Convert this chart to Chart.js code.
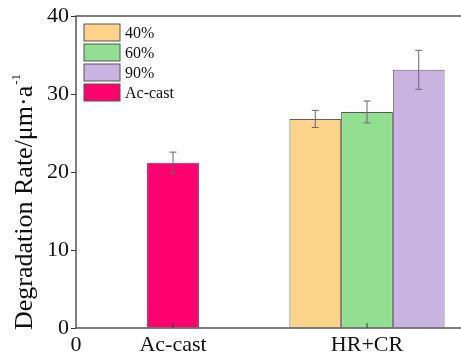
<!DOCTYPE html>
<html>
<head>
<meta charset="utf-8">
<script src="https://cdn.jsdelivr.net/npm/chart.js@4/dist/chart.umd.min.js"></script>
<style>
  html, body { margin: 0; padding: 0; background: #fff; overflow: hidden; }
</style>
</head>
<body>
<canvas id="myChart" width="470" height="356"></canvas>
<script>
// groups on the x axis (placed at 1 and 3 on a 0..4 axis)
var categories = ['Ac-cast', 'HR+CR'];
var categoryPos = [1, 3];
var yTicks = [0, 10, 20, 30, 40];
var yTitle = 'Degradation Rate/μm·a';
var yTitleSup = '-1';

// series
var seriesLabels = ['40%', '60%', '90%', 'Ac-cast'];
var acCast = [21.2];
var acCastErr = [1.35];
var hr40 = [26.8];
var hr40Err = [1.1];
var hr60 = [27.7];
var hr60Err = [1.4];
var hr90 = [33.1];
var hr90Err = [2.5];

var serif = "'Liberation Serif', 'Times New Roman', serif";

// error bars drawn through the scales
var errorBars = {
  id: 'errorBars',
  afterDatasetsDraw: function (chart) {
    var ctx = chart.ctx;
    var y = chart.scales.y;
    chart.data.datasets.forEach(function (ds, i) {
      var meta = chart.getDatasetMeta(i);
      meta.data.forEach(function (bar, j) {
        var v = ds.data[j].y;
        var e = ds.err[j];
        var top = y.getPixelForValue(v + e);
        var bot = y.getPixelForValue(v - e);
        ctx.save();
        ctx.strokeStyle = '#6e6470';
        ctx.lineWidth = 1;
        ctx.beginPath();
        ctx.moveTo(bar.x, top);
        ctx.lineTo(bar.x, bot);
        ctx.moveTo(bar.x - 3.5, top);
        ctx.lineTo(bar.x + 3.5, top);
        ctx.moveTo(bar.x - 3.5, bot);
        ctx.lineTo(bar.x + 3.5, bot);
        ctx.stroke();
        ctx.restore();
      });
    });
  }
};

// frame, inward x ticks, y title with superscript and the boxed legend
var frameAndLegend = {
  id: 'frameAndLegend',
  afterDraw: function (chart) {
    var ctx = chart.ctx;
    var a = chart.chartArea;
    ctx.save();
    ctx.strokeStyle = '#3a3a3a';
    ctx.lineWidth = 1.3;
    ctx.strokeRect(a.left, a.top, a.right - a.left, a.bottom - a.top);

    var x = chart.scales.x;
    ctx.lineWidth = 1;
    categoryPos.forEach(function (p) {
      var px = x.getPixelForValue(p);
      ctx.beginPath();
      ctx.moveTo(px, a.bottom);
      ctx.lineTo(px, a.bottom - 5);
      ctx.stroke();
    });

    // rotated y title
    ctx.save();
    ctx.translate(32, a.bottom + 2);
    ctx.rotate(-Math.PI / 2);
    ctx.fillStyle = '#111';
    ctx.textBaseline = 'alphabetic';
    ctx.textAlign = 'left';
    ctx.font = '26px ' + serif;
    ctx.fillText(yTitle, 0, 0);
    var w = ctx.measureText(yTitle).width;
    ctx.font = '13px ' + serif;
    ctx.fillText(yTitleSup, w + 1, -12);
    ctx.restore();

    ctx.font = '16px ' + serif;
    ctx.textBaseline = 'middle';
    chart.data.datasets.forEach(function (ds, i) {
      var bx = a.left + 8;
      var by = a.top + 8 + i * 20;
      ctx.fillStyle = ds.backgroundColor;
      ctx.fillRect(bx, by, 36, 17);
      ctx.strokeStyle = '#555';
      ctx.strokeRect(bx, by, 36, 17);
      ctx.fillStyle = '#111';
      ctx.fillText(ds.label, bx + 41, by + 10);
    });
    ctx.restore();
  }
};

function points(vals, pos) {
  return vals.map(function (v) {
    return { x: pos, y: v };
  });
}

var ctx = document.getElementById('myChart').getContext('2d');
var myChart = new Chart(ctx, {
  type: 'bar',
  data: {
    datasets: [
      {
        label: seriesLabels[0],
        data: points(hr40, categoryPos[1]),
        err: hr40Err,
        backgroundColor: '#fdd38c',
        borderColor: '#6b6257',
        borderWidth: 1,
        categoryPercentage: 1.6,
        barPercentage: 1,
      },
      {
        label: seriesLabels[1],
        data: points(hr60, categoryPos[1]),
        err: hr60Err,
        backgroundColor: '#93df91',
        borderColor: '#4f5f4f',
        borderWidth: 1,
        categoryPercentage: 1.6,
        barPercentage: 1,
      },
      {
        label: seriesLabels[2],
        data: points(hr90, categoryPos[1]),
        err: hr90Err,
        backgroundColor: '#c9b3e1',
        borderColor: '#6a5f78',
        borderWidth: 1,
        categoryPercentage: 1.6,
        barPercentage: 1,
      },
      {
        label: seriesLabels[3],
        data: points(acCast, categoryPos[0]),
        err: acCastErr,
        backgroundColor: '#ff006e',
        borderColor: '#8a3a60',
        borderWidth: 1,
        grouped: false,
        categoryPercentage: 0.535,
        barPercentage: 1,
      },
    ],
  },
  options: {
    responsive: false,
    animation: false,
    layout: { padding: { top: 16, right: 6, left: 0, bottom: 0 } },
    plugins: {
      legend: { display: false },
      tooltip: { enabled: false },
    },
    scales: {
      x: {
        type: 'linear',
        offset: false,
        min: 0,
        max: 4,
        afterBuildTicks: function (scale) {
          scale.ticks = [0].concat(categoryPos).map(function (v) {
            return { value: v };
          });
        },
        afterFit: function (scale) {
          scale.height = 28;
        },
        ticks: {
          autoSkip: false,
          maxRotation: 0,
          padding: 4,
          color: '#111',
          font: { family: serif, size: 22 },
          callback: function (value) {
            var k = categoryPos.indexOf(value);
            return k >= 0 ? categories[k] : String(value);
          },
        },
        grid: { display: false, drawTicks: false, offset: false },
        border: { display: false },
      },
      y: {
        min: 0,
        max: 40,
        afterBuildTicks: function (scale) {
          scale.ticks = yTicks.map(function (v) {
            return { value: v };
          });
        },
        afterFit: function (scale) {
          scale.width = 76;
        },
        ticks: {
          padding: 2,
          color: '#111',
          font: { family: serif, size: 22 },
        },
        grid: {
          drawOnChartArea: false,
          drawTicks: true,
          tickLength: 5,
          color: '#3a3a3a',
        },
        border: { display: false },
        title: { display: false },
      },
    },
  },
  plugins: [errorBars, frameAndLegend],
});
</script>
</body>
</html>
